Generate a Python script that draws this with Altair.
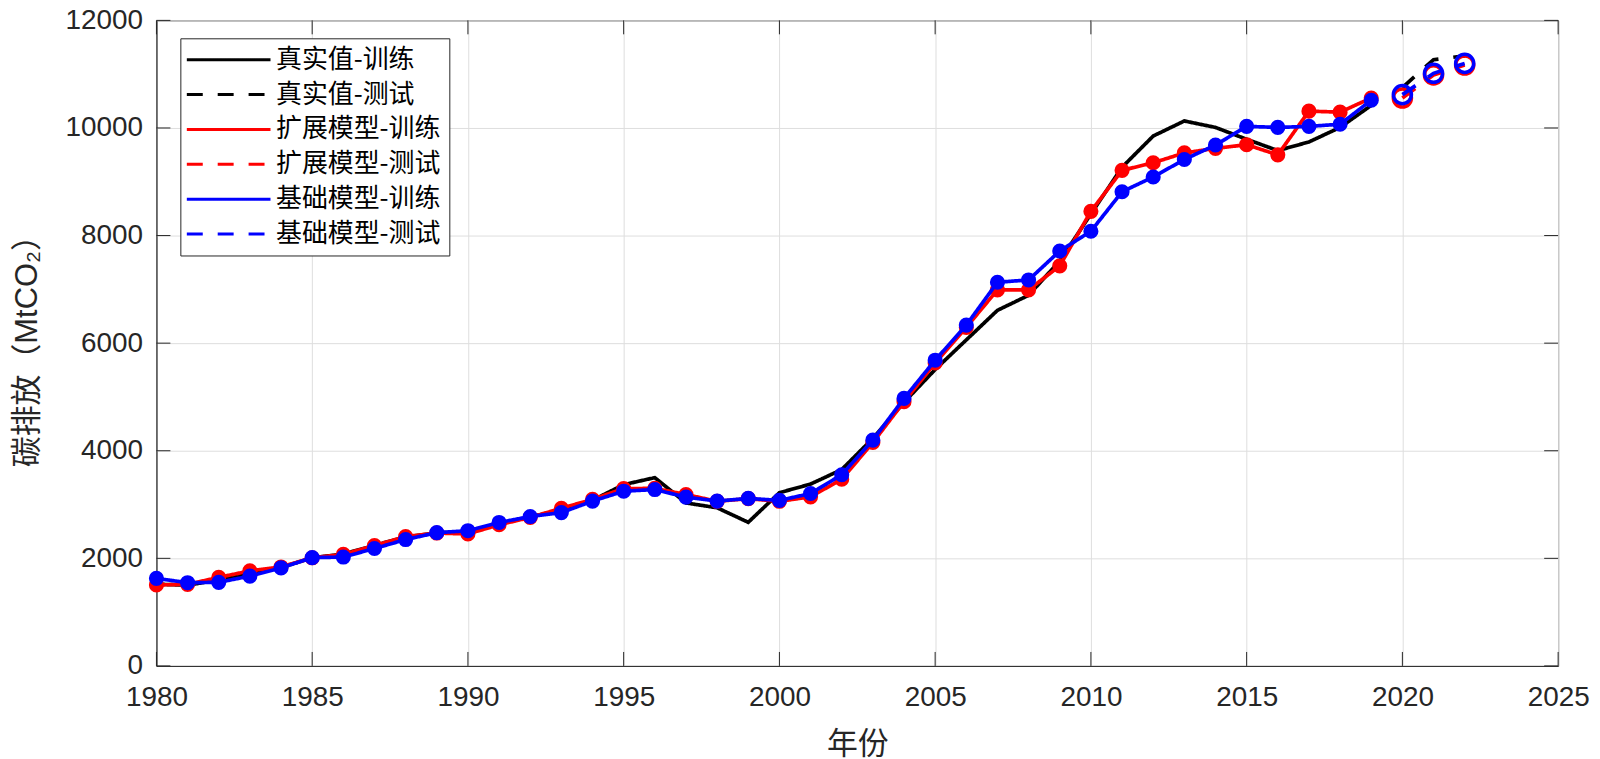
import altair as alt
import pandas as pd

# ---------------- data ----------------
years_train = list(range(1980, 2020))
years_test = [2020, 2021, 2022]

actual_train = [1520, 1500, 1600, 1720, 1830, 2010, 2080, 2240, 2400, 2470,
                2500, 2640, 2770, 2900, 3080, 3370, 3500, 3030, 2940, 2670,
                3220, 3380, 3650, 4230, 4900, 5510, 6060, 6610, 6890, 7530,
                8400, 9270, 9850, 10130, 10010, 9790, 9580, 9740, 10010, 10420]
actual_test = [10750, 11270, 11340]

ext_train = [1505, 1517, 1646, 1767, 1840, 2010, 2073, 2238, 2404, 2470,
             2453, 2624, 2760, 2931, 3096, 3297, 3300, 3187, 3060, 3110,
             3060, 3143, 3470, 4153, 4912, 5633, 6294, 6991, 6991, 7437,
             8450, 9212, 9353, 9536, 9621, 9689, 9500, 10313, 10294, 10557]
ext_test = [10557, 10986, 11170]

base_train = [1628, 1547, 1554, 1670, 1822, 2013, 2024, 2183, 2349, 2477,
              2514, 2667, 2777, 2850, 3064, 3248, 3279, 3138, 3064, 3114,
              3077, 3205, 3554, 4197, 4973, 5683, 6336, 7132, 7175, 7713,
              8080, 8814, 9089, 9414, 9683, 10030, 10010, 10030, 10069, 10515]
base_test = [10620, 11016, 11200]

series_names = ["真实值-训练", "真实值-测试", "扩展模型-训练",
                "扩展模型-测试", "基础模型-训练", "基础模型-测试"]
series_colors = ["#000000", "#000000", "#FF0000", "#FF0000", "#0000FF", "#0000FF"]
series_dashes = [[1, 0], [16, 15], [1, 0], [16, 15], [1, 0], [16, 15]]

x_ticks = [1980, 1985, 1990, 1995, 2000, 2005, 2010, 2015, 2020, 2025]
y_ticks = [0, 2000, 4000, 6000, 8000, 10000, 12000]

x_title = "年份"
y_title = "碳排放（MtCO₂）"

# ---------------- table ----------------
parts = [
    (series_names[0], years_train, actual_train),
    (series_names[1], years_test, actual_test),
    (series_names[2], years_train, ext_train),
    (series_names[3], years_test, ext_test),
    (series_names[4], years_train, base_train),
    (series_names[5], years_test, base_test),
]
rows = []
for name, yrs, vals in parts:
    for yr, v in zip(yrs, vals):
        rows.append({"year": yr, "value": v, "series": name})
df = pd.DataFrame(rows)
xt_df = pd.DataFrame({"year": x_ticks})
yt_df = pd.DataFrame({"value": y_ticks})

W, H = 1407, 648
TICK = 14
AX = "#262626"
LATIN = "Liberation Sans"
CJK = "Noto Sans CJK SC"

xs = alt.Scale(domain=[1980, 2025], nice=False, zero=False)
ys = alt.Scale(domain=[0, 12000], nice=False, zero=False)
color_scale = alt.Scale(domain=series_names, range=series_colors)
dash_scale = alt.Scale(domain=series_names, range=series_dashes)

main_x = alt.Axis(values=x_ticks, format="d", grid=True, gridColor="#dedede",
                  ticks=False, tickSize=0, domain=True, domainColor=AX,
                  labelFont=LATIN, labelFontSize=28, labelColor=AX, labelPadding=18,
                  labelFlush=False, labelOverlap=False,
                  title=x_title, titleFont=CJK, titleFontSize=31,
                  titleFontWeight="normal", titleColor=AX, titleY=79,
                  titleBaseline="middle")
main_y = alt.Axis(values=y_ticks, format="d", grid=True, gridColor="#dedede",
                  ticks=False, tickSize=0, domain=True, domainColor=AX,
                  labelFont=LATIN, labelFontSize=28, labelColor=AX, labelPadding=14,
                  labelFlush=False, labelOverlap=False,
                  title=y_title, titleFont=LATIN + ", " + CJK, titleFontSize=31,
                  titleFontWeight="normal", titleColor=AX, titleX=-129,
                  titleY=H / 2, titleAngle=270, titleBaseline="middle",
                  titleAlign="center")

base = alt.Chart(df)


def filt(name):
    return base.transform_filter(alt.FieldEqualPredicate(field="series", equal=name))


def line_layer(name, xa=None, ya=None):
    return filt(name).mark_line(strokeWidth=3.7).encode(
        x=alt.X("year:Q", scale=xs, axis=xa),
        y=alt.Y("value:Q", scale=ys, axis=ya),
        color=alt.Color("series:N", scale=color_scale, legend=alt.Legend(title=None)),
        strokeDash=alt.StrokeDash("series:N", scale=dash_scale, legend=alt.Legend(title=None)),
    )


def dot_layer(name, color):
    return filt(name).mark_circle(size=230, color=color, opacity=1).encode(
        x=alt.X("year:Q", scale=xs, axis=None),
        y=alt.Y("value:Q", scale=ys, axis=None),
    )


def ring_layer(name, color):
    return filt(name).mark_point(size=330, filled=False, strokeWidth=3.5,
                                 color=color, opacity=1).encode(
        x=alt.X("year:Q", scale=xs, axis=None),
        y=alt.Y("value:Q", scale=ys, axis=None),
    )


# inward tick marks on all four sides (MATLAB box style)
xtick_bottom = alt.Chart(xt_df).mark_rule(color=AX, strokeWidth=1).encode(
    x=alt.X("year:Q", scale=xs, axis=None), y=alt.value(H), y2=alt.value(H - TICK))
xtick_top = alt.Chart(xt_df).mark_rule(color=AX, strokeWidth=1).encode(
    x=alt.X("year:Q", scale=xs, axis=None), y=alt.value(0), y2=alt.value(TICK))
ytick_left = alt.Chart(yt_df).mark_rule(color=AX, strokeWidth=1).encode(
    y=alt.Y("value:Q", scale=ys, axis=None), x=alt.value(0), x2=alt.value(TICK))
ytick_right = alt.Chart(yt_df).mark_rule(color=AX, strokeWidth=1).encode(
    y=alt.Y("value:Q", scale=ys, axis=None), x=alt.value(W - TICK), x2=alt.value(W))

layers = [
    line_layer(series_names[0], main_x, main_y),
    xtick_bottom, xtick_top, ytick_left, ytick_right,
    line_layer(series_names[1]),
    line_layer(series_names[2]),
    dot_layer(series_names[2], series_colors[2]),
    line_layer(series_names[3]),
    ring_layer(series_names[3], series_colors[3]),
    line_layer(series_names[4]),
    dot_layer(series_names[4], series_colors[4]),
    line_layer(series_names[5]),
    ring_layer(series_names[5], series_colors[5]),
]

chart = alt.layer(*layers).resolve_axis(x="independent", y="independent").properties(
    width=W, height=H,
    padding={"left": 149, "top": 11, "right": 34, "bottom": 92},
    autosize=alt.AutoSizeParams(type="none"),
    background="white",
).configure_view(
    stroke=AX, strokeWidth=1
).configure_legend(
    orient="none", legendX=24, legendY=18,
    strokeColor=AX, fillColor="white", padding=8,
    symbolType="M-1.25,0H5.75", symbolSize=576, symbolStrokeWidth=3,
    labelFont=CJK, labelFontSize=26, labelColor="#000000",
    labelOffset=61, rowPadding=8, labelLimit=400,
)

chart.save("out.html", embed_options={"renderer": "svg", "actions": False})
